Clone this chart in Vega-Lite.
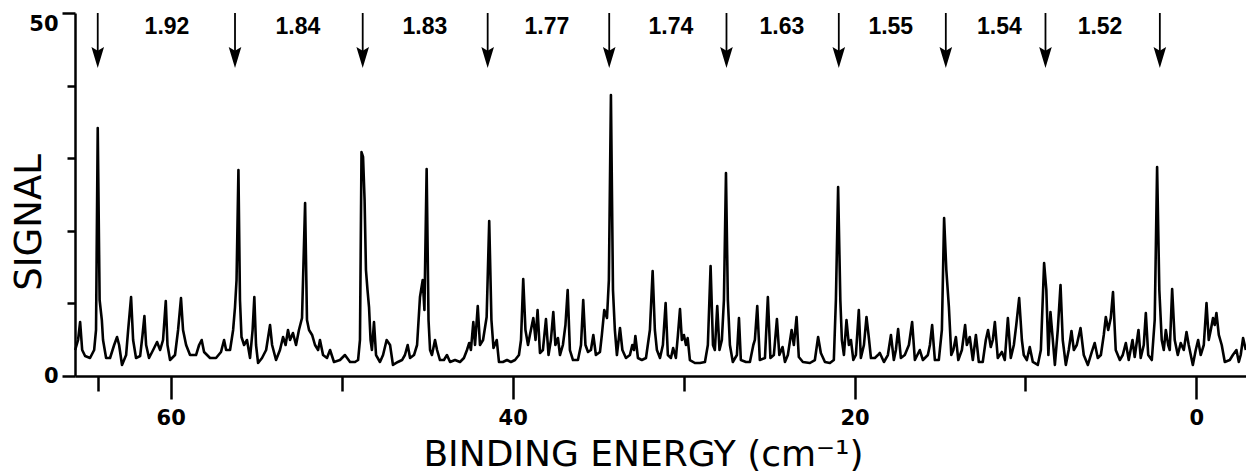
{
  "$schema": "https://vega.github.io/schema/vega-lite/v6.json",
  "width": 1171,
  "height": 363,
  "autosize": {"type": "none"},
  "padding": {"left": 75, "top": 13, "right": 0, "bottom": 98},
  "background": "white",
  "config": {
    "view": {"stroke": null},
    "axis": {"domainColor": "black", "tickColor": "black", "labelColor": "black", "titleColor": "black", "grid": false}
  },
  "datasets": {
    "spectrum": [
{"e":65.59,"s":3.58},{"e":65.42,"s":4.96},{"e":65.30,"s":7.44},{"e":65.18,"s":3.58},{"e":65.01,"s":2.75},{"e":64.72,"s":2.48},{"e":64.48,"s":3.58},{"e":64.37,"s":6.34},{"e":64.27,"s":34.16},{"e":64.16,"s":10.47},
{"e":64.03,"s":7.71},{"e":63.96,"s":4.96},{"e":63.78,"s":2.48},{"e":63.55,"s":2.48},{"e":63.31,"s":4.27},{"e":63.14,"s":5.37},{"e":63.02,"s":4.27},{"e":62.85,"s":1.52},{"e":62.61,"s":2.89},{"e":62.49,"s":6.34},
{"e":62.32,"s":10.88},{"e":62.20,"s":4.96},{"e":62.03,"s":2.48},{"e":61.79,"s":2.75},{"e":61.65,"s":5.65},{"e":61.54,"s":8.26},{"e":61.44,"s":4.27},{"e":61.27,"s":2.48},{"e":61.03,"s":3.58},{"e":60.80,"s":4.68},
{"e":60.62,"s":3.58},{"e":60.45,"s":4.96},{"e":60.29,"s":10.33},{"e":60.19,"s":4.27},{"e":60.04,"s":2.2},{"e":59.75,"s":2.89},{"e":59.57,"s":6.34},{"e":59.40,"s":10.74},{"e":59.28,"s":6.34},{"e":59.10,"s":4.27},
{"e":58.87,"s":2.89},{"e":58.52,"s":2.89},{"e":58.34,"s":4.27},{"e":58.19,"s":4.96},{"e":58.05,"s":3.31},{"e":57.70,"s":2.48},{"e":57.35,"s":2.48},{"e":57.06,"s":3.31},{"e":56.88,"s":4.96},{"e":56.76,"s":3.58},
{"e":56.53,"s":3.58},{"e":56.35,"s":6.34},{"e":56.24,"s":9.5},{"e":56.15,"s":13.22},{"e":56.04,"s":28.37},{"e":55.95,"s":10.47},{"e":55.86,"s":5.37},{"e":55.71,"s":4.27},{"e":55.54,"s":4.96},{"e":55.36,"s":2.48},
{"e":55.21,"s":6.34},{"e":55.11,"s":10.88},{"e":55.01,"s":4.27},{"e":54.89,"s":1.79},{"e":54.66,"s":2.48},{"e":54.42,"s":3.58},{"e":54.19,"s":7.02},{"e":54.07,"s":4.27},{"e":53.84,"s":2.2},{"e":53.61,"s":3.58},
{"e":53.43,"s":5.37},{"e":53.28,"s":4.27},{"e":53.14,"s":6.34},{"e":53.02,"s":4.96},{"e":52.85,"s":5.92},{"e":52.67,"s":4.27},{"e":52.50,"s":6.34},{"e":52.32,"s":7.99},{"e":52.14,"s":23.83},{"e":52.03,"s":7.71},
{"e":51.91,"s":6.34},{"e":51.73,"s":5.65},{"e":51.56,"s":4.27},{"e":51.38,"s":3.58},{"e":51.27,"s":4.96},{"e":51.09,"s":2.89},{"e":50.86,"s":2.48},{"e":50.68,"s":3.58},{"e":50.45,"s":1.93},{"e":50.10,"s":2.2},
{"e":49.81,"s":2.89},{"e":49.51,"s":1.93},{"e":49.22,"s":1.93},{"e":49.04,"s":2.2},{"e":48.93,"s":4.96},{"e":48.84,"s":30.85},{"e":48.75,"s":30.17},{"e":48.66,"s":24.24},{"e":48.58,"s":14.6},{"e":48.49,"s":11.85},
{"e":48.40,"s":9.5},{"e":48.31,"s":4.96},{"e":48.23,"s":3.58},{"e":48.11,"s":7.44},{"e":47.99,"s":2.89},{"e":47.76,"s":1.93},{"e":47.58,"s":2.89},{"e":47.37,"s":4.96},{"e":47.17,"s":4.27},{"e":47.00,"s":1.52},
{"e":46.71,"s":1.93},{"e":46.47,"s":2.2},{"e":46.30,"s":2.89},{"e":46.14,"s":4.27},{"e":46.00,"s":2.48},{"e":45.77,"s":2.89},{"e":45.59,"s":4.27},{"e":45.42,"s":10.88},{"e":45.26,"s":13.22},{"e":45.16,"s":9.09},
{"e":45.03,"s":28.51},{"e":44.92,"s":7.71},{"e":44.83,"s":3.58},{"e":44.72,"s":2.89},{"e":44.54,"s":4.96},{"e":44.42,"s":3.58},{"e":44.25,"s":2.2},{"e":44.02,"s":2.2},{"e":43.84,"s":2.89},{"e":43.66,"s":1.93},
{"e":43.37,"s":2.2},{"e":43.08,"s":1.93},{"e":42.85,"s":2.48},{"e":42.67,"s":3.58},{"e":42.54,"s":4.55},{"e":42.44,"s":3.58},{"e":42.30,"s":7.44},{"e":42.20,"s":4.27},{"e":42.04,"s":9.64},{"e":41.91,"s":4.27},
{"e":41.73,"s":4.96},{"e":41.52,"s":8.13},{"e":41.37,"s":21.35},{"e":41.24,"s":7.71},{"e":41.12,"s":3.86},{"e":40.93,"s":4.96},{"e":40.80,"s":1.93},{"e":40.57,"s":1.93},{"e":40.33,"s":2.2},{"e":40.10,"s":1.93},
{"e":39.86,"s":2.2},{"e":39.63,"s":2.89},{"e":39.51,"s":4.96},{"e":39.38,"s":13.36},{"e":39.25,"s":6.34},{"e":39.10,"s":4.27},{"e":38.99,"s":5.65},{"e":38.79,"s":7.99},{"e":38.66,"s":4.96},{"e":38.54,"s":9.09},
{"e":38.40,"s":3.17},{"e":38.23,"s":3.58},{"e":38.05,"s":7.85},{"e":37.90,"s":2.89},{"e":37.76,"s":4.96},{"e":37.62,"s":8.82},{"e":37.50,"s":4.27},{"e":37.35,"s":5.23},{"e":37.23,"s":2.89},{"e":37.06,"s":4.27},
{"e":36.91,"s":7.02},{"e":36.78,"s":11.85},{"e":36.65,"s":3.58},{"e":36.47,"s":2.2},{"e":36.18,"s":2.2},{"e":36.00,"s":4.27},{"e":35.87,"s":10.47},{"e":35.74,"s":4.27},{"e":35.59,"s":3.31},{"e":35.42,"s":3.58},
{"e":35.28,"s":5.65},{"e":35.13,"s":2.89},{"e":34.89,"s":3.31},{"e":34.78,"s":5.65},{"e":34.64,"s":9.09},{"e":34.48,"s":7.99},{"e":34.37,"s":13.22},{"e":34.25,"s":38.7},{"e":34.13,"s":11.85},{"e":34.02,"s":6.34},
{"e":33.90,"s":2.89},{"e":33.72,"s":6.61},{"e":33.58,"s":3.58},{"e":33.37,"s":2.48},{"e":33.14,"s":2.89},{"e":33.00,"s":4.27},{"e":32.90,"s":3.58},{"e":32.82,"s":5.51},{"e":32.67,"s":2.48},{"e":32.44,"s":2.2},
{"e":32.20,"s":2.48},{"e":31.97,"s":6.34},{"e":31.81,"s":14.46},{"e":31.68,"s":6.34},{"e":31.56,"s":3.58},{"e":31.38,"s":2.48},{"e":31.21,"s":4.27},{"e":31.05,"s":10.06},{"e":30.92,"s":2.89},{"e":30.74,"s":2.48},
{"e":30.61,"s":3.86},{"e":30.45,"s":2.48},{"e":30.33,"s":5.65},{"e":30.21,"s":9.23},{"e":30.10,"s":4.96},{"e":29.98,"s":5.65},{"e":29.86,"s":4.27},{"e":29.76,"s":5.23},{"e":29.63,"s":2.2},{"e":29.34,"s":1.79},
{"e":29.04,"s":1.79},{"e":28.75,"s":1.93},{"e":28.58,"s":4.27},{"e":28.42,"s":15.15},{"e":28.28,"s":4.27},{"e":28.17,"s":3.58},{"e":28.03,"s":9.64},{"e":27.90,"s":3.58},{"e":27.76,"s":4.96},{"e":27.64,"s":10.47},
{"e":27.52,"s":27.96},{"e":27.41,"s":10.47},{"e":27.29,"s":4.27},{"e":27.12,"s":1.93},{"e":26.88,"s":2.89},{"e":26.76,"s":7.99},{"e":26.65,"s":2.2},{"e":26.35,"s":1.93},{"e":26.12,"s":1.93},{"e":25.92,"s":4.27},
{"e":25.83,"s":4.96},{"e":25.69,"s":9.64},{"e":25.54,"s":2.2},{"e":25.24,"s":2.48},{"e":25.07,"s":10.88},{"e":24.92,"s":2.48},{"e":24.72,"s":2.89},{"e":24.54,"s":7.85},{"e":24.40,"s":2.89},{"e":24.21,"s":3.99},
{"e":24.07,"s":1.93},{"e":23.90,"s":2.89},{"e":23.68,"s":6.34},{"e":23.55,"s":4.27},{"e":23.39,"s":8.13},{"e":23.26,"s":2.62},{"e":23.02,"s":1.93},{"e":22.61,"s":1.79},{"e":22.32,"s":2.2},{"e":22.13,"s":5.37},
{"e":21.97,"s":3.17},{"e":21.73,"s":1.93},{"e":21.44,"s":1.79},{"e":21.21,"s":2.2},{"e":21.09,"s":10.47},{"e":20.96,"s":26.03},{"e":20.83,"s":10.47},{"e":20.74,"s":4.96},{"e":20.62,"s":2.89},{"e":20.47,"s":7.71},
{"e":20.33,"s":4.27},{"e":20.21,"s":4.96},{"e":20.07,"s":2.2},{"e":19.92,"s":2.89},{"e":19.75,"s":9.09},{"e":19.63,"s":2.48},{"e":19.45,"s":4.27},{"e":19.30,"s":8.13},{"e":19.16,"s":5.23},{"e":19.04,"s":2.48},
{"e":18.81,"s":2.48},{"e":18.63,"s":2.89},{"e":18.52,"s":3.17},{"e":18.28,"s":1.93},{"e":18.05,"s":2.89},{"e":17.87,"s":5.65},{"e":17.70,"s":2.2},{"e":17.58,"s":3.58},{"e":17.45,"s":6.47},{"e":17.29,"s":2.48},
{"e":17.06,"s":2.89},{"e":16.82,"s":4.27},{"e":16.63,"s":7.44},{"e":16.47,"s":2.2},{"e":16.18,"s":3.58},{"e":16.00,"s":2.2},{"e":15.71,"s":2.89},{"e":15.59,"s":4.27},{"e":15.46,"s":7.02},{"e":15.30,"s":2.2},
{"e":15.07,"s":2.2},{"e":14.89,"s":6.34},{"e":14.76,"s":21.76},{"e":14.63,"s":14.6},{"e":14.48,"s":9.5},{"e":14.34,"s":2.89},{"e":14.22,"s":3.58},{"e":14.07,"s":5.37},{"e":13.93,"s":2.2},{"e":13.72,"s":3.58},
{"e":13.53,"s":7.02},{"e":13.43,"s":4.27},{"e":13.26,"s":5.37},{"e":13.08,"s":2.2},{"e":12.90,"s":5.65},{"e":12.73,"s":1.93},{"e":12.50,"s":1.93},{"e":12.32,"s":4.96},{"e":12.19,"s":6.34},{"e":12.03,"s":3.99},
{"e":11.91,"s":4.96},{"e":11.79,"s":7.44},{"e":11.62,"s":2.48},{"e":11.38,"s":3.31},{"e":11.21,"s":2.2},{"e":11.03,"s":7.99},{"e":10.86,"s":2.48},{"e":10.68,"s":4.27},{"e":10.54,"s":7.02},{"e":10.37,"s":10.74},
{"e":10.21,"s":4.96},{"e":10.10,"s":2.89},{"e":9.92,"s":2.2},{"e":9.75,"s":3.99},{"e":9.57,"s":1.93},{"e":9.28,"s":1.52},{"e":9.10,"s":3.58},{"e":8.91,"s":15.56},{"e":8.78,"s":11.85},{"e":8.66,"s":2.89},
{"e":8.54,"s":8.82},{"e":8.40,"s":4.96},{"e":8.28,"s":1.52},{"e":8.11,"s":6.34},{"e":7.95,"s":12.53},{"e":7.82,"s":4.96},{"e":7.64,"s":1.52},{"e":7.47,"s":3.58},{"e":7.31,"s":6.2},{"e":7.17,"s":3.58},
{"e":7.00,"s":4.27},{"e":6.78,"s":6.61},{"e":6.59,"s":2.89},{"e":6.35,"s":1.52},{"e":6.12,"s":3.31},{"e":5.95,"s":4.55},{"e":5.77,"s":2.48},{"e":5.59,"s":2.89},{"e":5.42,"s":5.65},{"e":5.30,"s":8.13},
{"e":5.16,"s":6.34},{"e":5.01,"s":7.99},{"e":4.88,"s":11.57},{"e":4.72,"s":3.58},{"e":4.48,"s":2.2},{"e":4.31,"s":2.89},{"e":4.13,"s":4.55},{"e":3.96,"s":2.2},{"e":3.74,"s":4.96},{"e":3.61,"s":2.62},
{"e":3.39,"s":6.34},{"e":3.26,"s":2.48},{"e":3.08,"s":4.27},{"e":2.96,"s":8.68},{"e":2.82,"s":2.89},{"e":2.61,"s":2.2},{"e":2.44,"s":7.71},{"e":2.30,"s":28.79},{"e":2.17,"s":11.85},{"e":2.03,"s":4.96},
{"e":1.91,"s":3.58},{"e":1.79,"s":6.34},{"e":1.65,"s":4.27},{"e":1.56,"s":3.58},{"e":1.42,"s":11.98},{"e":1.27,"s":4.96},{"e":1.09,"s":2.89},{"e":0.92,"s":4.55},{"e":0.74,"s":3.58},{"e":0.58,"s":6.06},
{"e":0.45,"s":4.27},{"e":0.21,"s":1.52},{"e":0.04,"s":3.58},{"e":-0.10,"s":4.96},{"e":-0.25,"s":2.89},{"e":-0.43,"s":4.27},{"e":-0.59,"s":10.06},{"e":-0.72,"s":4.96},{"e":-0.84,"s":6.34},{"e":-0.97,"s":7.99},
{"e":-1.07,"s":7.02},{"e":-1.17,"s":8.68},{"e":-1.31,"s":5.65},{"e":-1.48,"s":4.27},{"e":-1.66,"s":1.93},{"e":-1.95,"s":2.2},{"e":-2.13,"s":2.89},{"e":-2.34,"s":3.58},{"e":-2.48,"s":1.93},{"e":-2.59,"s":2.89},
{"e":-2.73,"s":5.23},{"e":-2.89,"s":3.58}
    ],
    "arrows": [
      {"e": 64.27}, {"e": 56.24}, {"e": 48.77}, {"e": 41.46}, {"e": 34.35},
      {"e": 27.49}, {"e": 20.92}, {"e": 14.66}, {"e": 8.83}, {"e": 2.14}
    ],
    "labels": [
      {"e": 60.22, "lab": "1.92"}, {"e": 52.56, "lab": "1.84"}, {"e": 45.13, "lab": "1.83"},
      {"e": 38.0, "lab": "1.77"}, {"e": 30.74, "lab": "1.74"}, {"e": 24.25, "lab": "1.63"},
      {"e": 17.88, "lab": "1.55"}, {"e": 11.53, "lab": "1.54"}, {"e": 5.64, "lab": "1.52"}
    ]
  },
  "encoding": {
    "x": {
      "field": "e",
      "type": "quantitative",
      "scale": {"domain": [-2.9, 65.6], "reverse": true, "nice": false, "zero": false},
      "axis": {
        "values": [64.27, 60, 50, 40, 30, 20, 10, 0],
        "labelExpr": "datum.value % 20 === 0 ? datum.label : ''",
        "tickSize": {"condition": {"test": "datum.value % 20 === 0", "value": 23}, "value": 15},
        "tickWidth": 2.5,
        "domainWidth": 2.5,
        "labelFont": "DejaVu Sans",
        "labelFontWeight": "bold",
        "labelFontSize": 21,
        "labelPadding": 8,
        "labelBaseline": "top",
        "labelFlush": false,
        "title": "BINDING ENERGY (cm⁻¹)",
        "titleFont": "DejaVu Sans",
        "titleFontWeight": "normal",
        "titleFontSize": 36,
        "titleBaseline": "alphabetic",
        "titleX": 568,
        "titleY": 89
      }
    }
  },
  "layer": [
    {
      "data": {"name": "spectrum"},
      "mark": {"type": "line", "color": "black", "strokeWidth": 2.6, "strokeJoin": "round"},
      "encoding": {
        "y": {
          "field": "s",
          "type": "quantitative",
          "scale": {"domain": [0, 50], "nice": false, "zero": true},
          "axis": {
            "values": [0, 5, 10, 15, 20, 25, 30, 35, 40, 45, 50],
            "labelExpr": "datum.value % 50 === 0 ? datum.label : ''",
            "tickSize": {"condition": {"test": "datum.value % 50 === 0", "value": 13}, "value": 8},
            "tickWidth": 2.5,
            "domainWidth": 2.5,
            "labelFont": "DejaVu Sans",
            "labelFontWeight": "bold",
            "labelFontSize": 21,
            "labelPadding": 4,
            "labelBaseline": {"condition": {"test": "datum.value === 50", "value": "top"}, "value": "middle"},
            "labelFlush": false,
            "title": "SIGNAL",
            "titleFont": "DejaVu Sans",
            "titleFontWeight": "normal",
            "titleFontSize": 37,
            "titleBaseline": "alphabetic",
            "titleX": -35,
            "titleY": 209
          }
        }
      }
    },
    {
      "data": {"name": "arrows"},
      "mark": {"type": "rule", "color": "black", "strokeWidth": 1.8},
      "encoding": {
        "y": {"datum": 50},
        "y2": {"datum": 44.5}
      }
    },
    {
      "data": {"name": "arrows"},
      "mark": {"type": "point", "filled": true, "color": "black", "opacity": 1, "size": 441, "shape": "M-0.6,-1L0,-0.65L0.6,-1L0,1Z"},
      "encoding": {
        "y": {"datum": 43.87}
      }
    },
    {
      "data": {"name": "labels"},
      "mark": {"type": "text", "color": "black", "font": "Liberation Sans", "fontWeight": "bold", "fontSize": 23, "baseline": "middle", "align": "center"},
      "encoding": {
        "y": {"datum": 48.07},
        "text": {"field": "lab"}
      }
    }
  ]
}
